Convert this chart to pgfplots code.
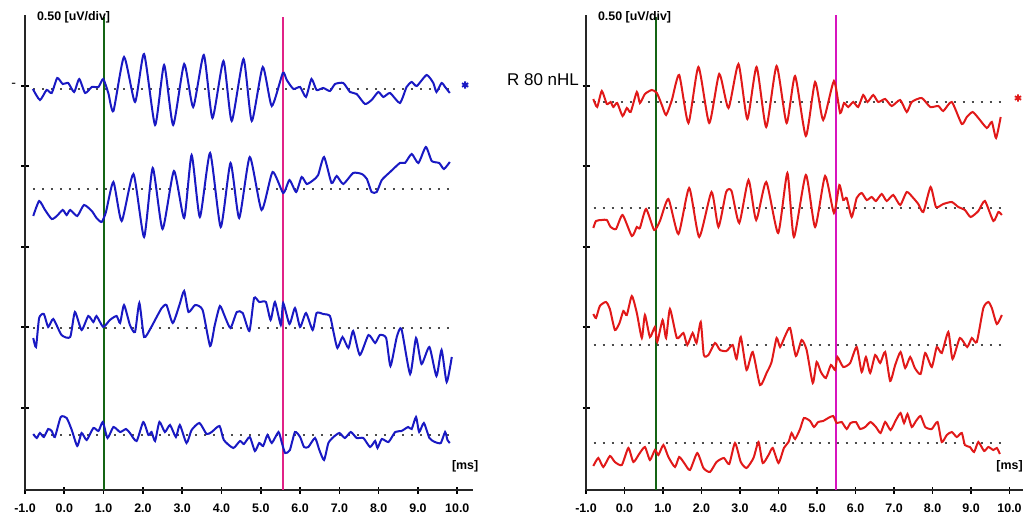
\documentclass[border=0pt]{standalone}
\usepackage{pgfplots}
\pgfplotsset{compat=1.18}
\usepackage{fontspec}
\setmainfont{Liberation Sans}

\definecolor{trblue}{RGB}{25,25,195}
\definecolor{trred}{RGB}{225,25,25}
\definecolor{mkgreen}{RGB}{20,100,20}
\definecolor{mkpinkL}{RGB}{225,35,135}
\definecolor{mkpinkR}{RGB}{215,20,190}

% y values: pixel height above the time axis (80.5 units = 1 div = 0.50 uV)
\pgfplotsset{
  abr/.style={
    scale only axis, height=237.5pt, xmin=-1, ymin=0, ymax=475,
    axis lines=left, axis line style={-, line width=0.8pt, black!85},
    clip=false,
    xtick={-1,0,1,2,3,4,5,6,7,8,9,10},
    xticklabels={-1.0,0.0,1.0,2.0,3.0,4.0,5.0,6.0,7.0,8.0,9.0,10.0},
    ytick={82,163,243,324,404}, yticklabels={},
    tick align=center, major tick length=3.5pt,
    tick style={line width=0.8pt, black},
    ticklabel style={font=\fontsize{6.2}{7}\selectfont\bfseries},
    xticklabel style={yshift=-1.5pt},
  },
  base/.style={gray!60!black, line width=1pt, dash pattern=on 1pt off 3.5pt},
  trace/.style={line width=1pt, smooth, tension=0.35},
}
\tikzset{lbl/.style={font=\fontsize{6.2}{7}\selectfont\bfseries}}

\begin{document}
\begin{tikzpicture}
\useasboundingbox (0,-12pt) rectangle (518pt,245pt);

% ---------------- left panel ----------------
\begin{axis}[abr, at={(12.5pt,0)}, anchor=south west, width=224pt, xmax=10.4]
\addplot[base] coordinates {(-0.8,401) (9.8,401)};
\addplot[base] coordinates {(-0.8,301) (9.8,301)};
\addplot[base] coordinates {(-0.8,162) (9.8,162)};
\addplot[base] coordinates {(-0.8,55) (9.8,55)};

\addplot[mkgreen, line width=1pt] coordinates {(1.0,0) (1.0,473)};
\addplot[mkpinkL, line width=1pt] coordinates {(5.57,0) (5.57,473)};

\addplot[trace, trblue] coordinates {
(-0.80,401) (-0.62,390) (-0.45,400) (-0.32,397) (-0.18,412) (-0.04,406) (0.10,407)
(0.25,398) (0.38,411) (0.53,397) (0.70,403) (0.87,403) (0.99,411) (1.12,397)
(1.25,379) (1.52,433) (1.80,388) (2.03,436) (2.31,365) (2.54,425) (2.77,365)
(3.05,426) (3.28,383) (3.55,435) (3.77,372) (4.05,429) (4.26,369) (4.56,431)
(4.77,369) (5.05,423) (5.28,384) (5.56,417) (5.66,410) (5.83,401) (6.00,403)
(6.15,393) (6.29,411) (6.42,400) (6.59,402) (6.76,399) (6.89,406) (7.10,407)
(7.27,398) (7.44,396) (7.65,386) (7.82,390) (7.99,398) (8.12,393) (8.29,397)
(8.54,387) (8.71,403) (8.84,408) (8.97,404) (9.22,415) (9.39,407) (9.47,398)
(9.60,407) (9.69,403) (9.81,397)};

\addplot[trace, trblue] coordinates {
(-0.79,274) (-0.64,289) (-0.49,280) (-0.32,271) (-0.19,274) (-0.04,280) (0.06,275)
(0.15,280) (0.33,274) (0.50,285) (0.70,279) (0.82,272) (0.95,268) (1.06,278)
(1.25,308) (1.46,269) (1.76,316) (2.03,253) (2.25,322) (2.50,261) (2.79,319)
(3.05,272) (3.24,335) (3.45,273) (3.71,337) (3.98,263) (4.23,327) (4.45,272)
(4.72,333) (5.02,280) (5.30,318) (5.57,297) (5.73,310) (5.90,298) (6.04,313)
(6.17,306) (6.34,310) (6.46,315) (6.61,333) (6.80,307) (6.93,314) (7.10,306)
(7.35,317) (7.57,316) (7.70,311) (7.82,298) (7.95,298) (8.08,310) (8.29,318)
(8.54,327) (8.67,327) (8.84,336) (9.01,327) (9.20,343) (9.35,329) (9.54,327)
(9.66,321) (9.81,328)};

\addplot[trace, trblue] coordinates {
(-0.79,152) (-0.72,143) (-0.64,172) (-0.52,176) (-0.41,163) (-0.28,171) (-0.07,155)
(0.15,153) (0.27,178) (0.44,160) (0.61,174) (0.74,168) (0.82,174) (0.99,163)
(1.16,170) (1.33,174) (1.42,167) (1.52,185) (1.67,165) (1.80,158) (1.91,187)
(2.03,153) (2.20,162) (2.35,173) (2.48,182) (2.60,185) (2.76,167) (2.93,185)
(3.05,199) (3.16,178) (3.33,185) (3.52,180) (3.71,144) (3.83,165) (3.96,184)
(4.09,173) (4.23,162) (4.39,178) (4.54,177) (4.71,159) (4.83,192) (4.96,188)
(5.13,188) (5.25,170) (5.36,188) (5.51,165) (5.57,187) (5.73,166) (5.87,182)
(6.00,163) (6.15,177) (6.32,160) (6.42,177) (6.59,176) (6.76,174) (6.85,158)
(6.95,142) (7.08,153) (7.23,142) (7.35,159) (7.52,135) (7.74,155) (7.91,147)
(8.03,155) (8.19,152) (8.30,124) (8.46,153) (8.58,161) (8.80,116) (8.95,152)
(9.09,126) (9.29,143) (9.47,114) (9.60,140) (9.73,108) (9.86,133)};

\addplot[trace, trblue] coordinates {
(-0.79,56) (-0.70,52) (-0.62,57) (-0.52,53) (-0.41,61) (-0.32,59) (-0.24,53)
(-0.09,73) (0.06,72) (0.19,60) (0.33,44) (0.44,57) (0.57,50) (0.74,62)
(0.87,59) (0.98,68) (1.10,52) (1.25,63) (1.42,58) (1.57,61) (1.67,57)
(1.84,49) (2.01,68) (2.14,55) (2.22,58) (2.31,49) (2.42,68) (2.56,58)
(2.69,65) (2.84,53) (2.94,65) (3.11,47) (3.24,60) (3.44,67) (3.62,56)
(3.75,58) (3.95,64) (4.06,50) (4.30,42) (4.47,49) (4.57,46) (4.72,53)
(4.85,39) (4.96,47) (5.06,44) (5.17,55) (5.28,47) (5.45,58) (5.53,48)
(5.62,37) (5.74,40) (5.87,58) (6.00,53) (6.10,43) (6.21,43) (6.38,52)
(6.49,40) (6.61,30) (6.72,47) (6.85,53) (7.00,57) (7.14,52) (7.29,58)
(7.44,52) (7.61,52) (7.78,43) (7.91,49) (7.97,42) (8.08,51) (8.25,48)
(8.42,58) (8.58,59) (8.75,63) (8.84,61) (8.95,73) (9.03,58) (9.15,67)
(9.29,52) (9.43,48) (9.58,47) (9.69,58) (9.75,50) (9.81,47)};

\addplot[only marks, mark=asterisk, mark size=1.8pt, trblue, line width=0.9pt]
  coordinates {(10.2,405)};

\node[lbl, anchor=west, xshift=2.5pt, yshift=-1pt] at (rel axis cs:0,1) {0.50 [uV/div]};
\node[lbl] at (axis cs:10.2,24) {[ms]};
\node[anchor=east, font=\fontsize{7}{8}\selectfont, xshift=-1pt] at (axis cs:-1,405) {-};
\end{axis}

% ---------------- right panel ----------------
\begin{axis}[abr, at={(293pt,0)}, anchor=south west, width=218.5pt, xmax=10.35]
\addplot[base] coordinates {(-0.8,388) (9.8,388)};
\addplot[base] coordinates {(-0.8,282) (9.8,282)};
\addplot[base] coordinates {(-0.8,145) (9.8,145)};
\addplot[base] coordinates {(-0.8,47) (9.8,47)};

\addplot[mkgreen, line width=1pt] coordinates {(0.83,0) (0.83,473)};
\addplot[mkpinkR, line width=1pt] coordinates {(5.48,0) (5.48,475)};

\addplot[trace, trred] coordinates {
(-0.81,391) (-0.71,383) (-0.59,399) (-0.46,386) (-0.36,388) (-0.29,383) (-0.19,387)
(-0.05,374) (0.06,382) (0.16,378) (0.32,398) (0.40,387) (0.53,396) (0.71,400)
(0.84,397) (0.97,385) (1.08,375) (1.23,390) (1.42,415) (1.66,367) (1.92,423)
(2.20,367) (2.46,416) (2.70,382) (2.96,426) (3.19,371) (3.43,423) (3.68,363)
(3.95,424) (4.21,367) (4.43,414) (4.71,354) (4.95,408) (5.16,370) (5.44,409)
(5.60,377) (5.70,387) (5.81,383) (5.94,388) (6.07,383) (6.20,395) (6.31,388)
(6.46,395) (6.59,388) (6.77,391) (6.94,384) (7.16,390) (7.33,378) (7.46,388)
(7.72,392) (7.94,383) (8.15,384) (8.28,379) (8.50,388) (8.76,366) (8.89,373)
(9.04,378) (9.19,372) (9.41,362) (9.54,368) (9.65,352) (9.77,373)};

\addplot[trace, trred] coordinates {
(-0.81,262) (-0.74,269) (-0.59,270) (-0.46,270) (-0.36,263) (-0.22,261) (-0.05,275)
(0.19,254) (0.32,263) (0.40,262) (0.56,281) (0.77,260) (0.92,269) (1.14,291)
(1.40,256) (1.68,302) (1.94,253) (2.26,298) (2.44,263) (2.64,298) (2.78,299)
(2.98,267) (3.22,310) (3.42,270) (3.68,308) (3.99,257) (4.23,317) (4.40,253)
(4.71,315) (4.95,263) (5.21,314) (5.44,277) (5.58,305) (5.68,290) (5.77,292)
(5.90,273) (6.03,292) (6.16,297) (6.29,290) (6.42,293) (6.53,289) (6.68,296)
(6.81,289) (6.98,295) (7.16,285) (7.33,298) (7.50,292) (7.63,286) (7.76,278)
(7.95,303) (8.09,283) (8.28,286) (8.50,288) (8.67,283) (8.84,280) (8.99,273)
(9.19,279) (9.36,289) (9.58,269) (9.71,278) (9.80,275)};

\addplot[trace, trred] coordinates {
(-0.81,176) (-0.74,172) (-0.64,184) (-0.48,188) (-0.38,181) (-0.25,160) (-0.13,167)
(-0.03,179) (0.06,175) (0.19,194) (0.32,177) (0.45,152) (0.53,175) (0.66,153)
(0.79,163) (0.85,148) (0.99,170) (1.08,152) (1.18,181) (1.36,152) (1.53,157)
(1.63,145) (1.77,157) (1.87,147) (1.98,168) (2.06,135) (2.18,135) (2.35,147)
(2.48,140) (2.65,139) (2.81,145) (2.91,131) (3.02,153) (3.17,120) (3.33,138)
(3.52,105) (3.69,117) (3.82,128) (3.95,152) (4.04,143) (4.17,154) (4.30,162)
(4.45,134) (4.60,150) (4.73,140) (4.89,107) (4.99,128) (5.10,118) (5.23,112)
(5.36,125) (5.47,120) (5.53,133) (5.68,123) (5.86,127) (6.03,143) (6.16,118)
(6.27,133) (6.38,117) (6.51,135) (6.64,127) (6.77,138) (6.90,109) (7.03,125)
(7.17,138) (7.29,122) (7.42,133) (7.54,122) (7.69,116) (7.81,137) (7.98,123)
(8.11,143) (8.24,137) (8.41,158) (8.52,131) (8.71,152) (8.90,143) (9.02,152)
(9.15,148) (9.32,182) (9.45,188) (9.54,182) (9.67,166) (9.80,175)};

\addplot[trace, trred] coordinates {
(-0.81,24) (-0.68,32) (-0.55,23) (-0.38,34) (-0.25,28) (-0.07,25) (0.10,42)
(0.23,28) (0.38,36) (0.53,43) (0.66,30) (0.79,40) (0.88,35) (1.01,45)
(1.14,33) (1.31,23) (1.42,33) (1.55,27) (1.70,20) (1.89,37) (2.05,22)
(2.22,18) (2.39,28) (2.58,32) (2.72,26) (2.87,47) (3.02,28) (3.17,22)
(3.35,32) (3.48,48) (3.59,27) (3.74,35) (3.85,42) (4.00,27) (4.14,42)
(4.26,48) (4.34,57) (4.43,51) (4.56,61) (4.66,72) (4.82,69) (4.92,63)
(5.03,68) (5.16,69) (5.29,72) (5.42,74) (5.51,67) (5.64,68) (5.77,61)
(5.87,67) (6.01,68) (6.12,61) (6.25,63) (6.39,68) (6.53,63) (6.65,57)
(6.77,68) (6.91,60) (7.05,70) (7.17,77) (7.26,67) (7.35,76) (7.46,63)
(7.57,69) (7.69,74) (7.81,63) (7.98,61) (8.13,68) (8.24,48) (8.37,55)
(8.50,58) (8.63,53) (8.76,57) (8.84,45) (8.97,43) (9.08,38) (9.19,48)
(9.34,39) (9.45,43) (9.58,40) (9.67,42) (9.75,36)};

\addplot[only marks, mark=asterisk, mark size=1.8pt, trred, line width=0.9pt]
  coordinates {(10.22,392)};

\node[lbl, anchor=west, xshift=2.5pt, yshift=-1pt] at (rel axis cs:0,1) {0.50 [uV/div]};
\node[lbl] at (axis cs:10.0,24) {[ms]};
\node[anchor=east, font=\fontsize{8.5}{9}\selectfont, xshift=0pt] at (axis cs:-1,410) {R 80 nHL};
\end{axis}
\end{tikzpicture}
\end{document}
